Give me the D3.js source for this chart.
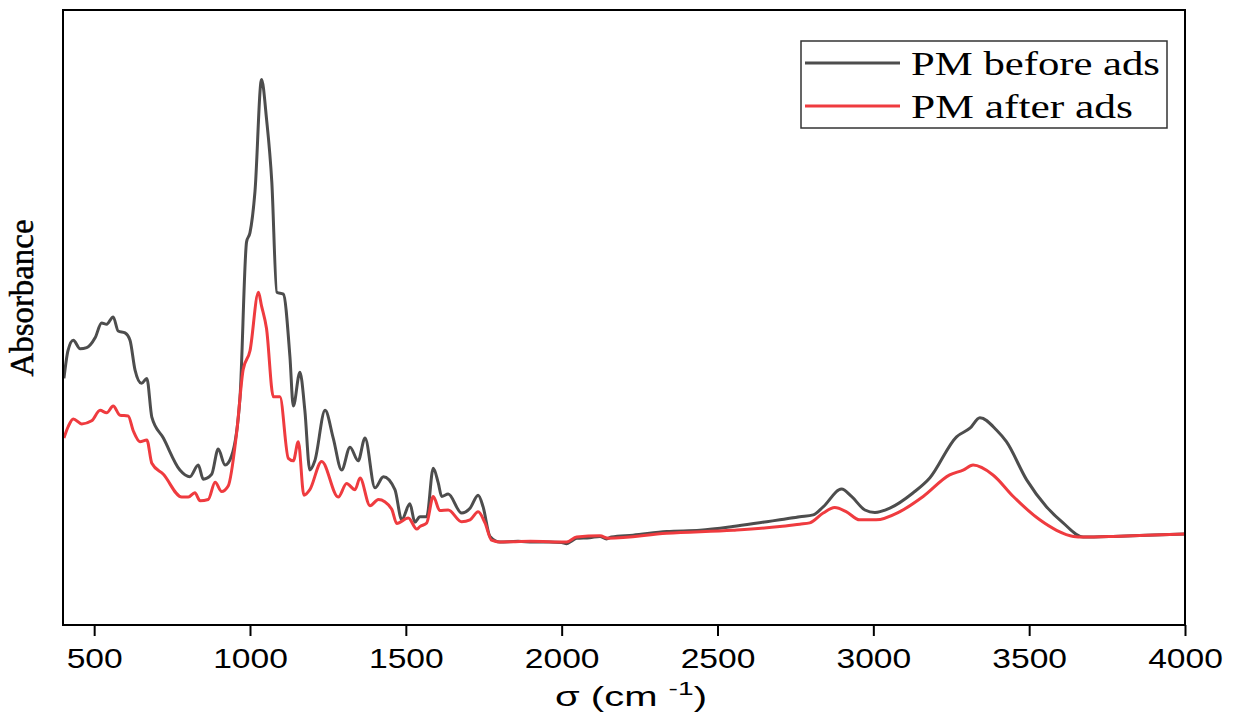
<!DOCTYPE html>
<html>
<head>
<meta charset="utf-8">
<style>
  body { margin: 0; background: #fff; }
  svg { display: block; }
  .tick text { font-family: "Liberation Sans", Arial, sans-serif; font-size: 28px; fill: #000; }
  .serif { font-family: "Liberation Serif", "Times New Roman", serif; fill: #000; }
</style>
</head>
<body>
<script src="https://d3js.org/d3.v7.min.js"></script>
<script>

// wavenumber (cm-1) and absorbance (a.u.)
var waveBefore = [403,416,433,455,476,503,524,540,561,577,599,615,631,652,669,685,722,775,807,834,850,877,898,920,941,968,989,1000,1016,1037,1053,1070,1086,1107,1128,1139,1160,1176,1192,1208,1241,1267,1294,1321,1347,1369,1401,1428,1465,1487,1513,1529,1545,1567,1588,1604,1615,1636,1679,1706,1732,1748,1770,1802,1860,1908,1960,2000,2016,2030,2048,2090,2123,2144,2160,2229,2337,2444,2549,2658,2700,2764,2807,2839,2898,2930,2973,3005,3053,3128,3181,3267,3310,3342,3395,3427,3492,3556,3609,3673,3769,3876,4000];
var absBefore  = [0.401,0.446,0.463,0.449,0.451,0.467,0.491,0.489,0.501,0.478,0.475,0.463,0.415,0.393,0.401,0.338,0.304,0.252,0.241,0.260,0.237,0.245,0.286,0.260,0.275,0.371,0.623,0.638,0.705,0.887,0.823,0.720,0.541,0.538,0.437,0.356,0.411,0.349,0.252,0.267,0.349,0.304,0.252,0.289,0.267,0.304,0.223,0.241,0.220,0.171,0.197,0.167,0.176,0.176,0.255,0.231,0.209,0.213,0.182,0.190,0.211,0.192,0.144,0.135,0.136,0.135,0.135,0.134,0.132,0.136,0.141,0.142,0.144,0.140,0.143,0.146,0.152,0.154,0.160,0.168,0.171,0.176,0.179,0.192,0.221,0.209,0.187,0.183,0.190,0.215,0.239,0.306,0.320,0.337,0.317,0.298,0.236,0.192,0.166,0.143,0.144,0.146,0.148];

var waveAfter = [403,417,433,460,492,519,540,561,583,609,626,647,669,685,722,781,802,823,840,866,888,909,930,957,978,1000,1027,1037,1053,1075,1096,1123,1139,1155,1173,1192,1230,1283,1310,1337,1353,1385,1412,1454,1471,1508,1535,1545,1567,1588,1609,1636,1679,1706,1732,1754,1775,1802,1900,2016,2048,2123,2150,2337,2550,2700,2764,2796,2839,2876,2914,2956,3009,3084,3160,3245,3288,3320,3384,3449,3534,3588,3642,3673,3769,3876,4000];
var absAfter  = [0.304,0.323,0.335,0.327,0.332,0.349,0.345,0.356,0.341,0.340,0.315,0.298,0.301,0.263,0.245,0.208,0.208,0.215,0.202,0.204,0.232,0.217,0.226,0.312,0.415,0.446,0.541,0.519,0.482,0.371,0.371,0.271,0.267,0.298,0.211,0.220,0.266,0.208,0.230,0.220,0.239,0.194,0.204,0.189,0.165,0.174,0.156,0.160,0.166,0.209,0.186,0.187,0.168,0.171,0.184,0.166,0.138,0.135,0.136,0.135,0.143,0.145,0.141,0.149,0.154,0.160,0.164,0.166,0.182,0.191,0.184,0.171,0.171,0.184,0.209,0.244,0.252,0.260,0.244,0.209,0.171,0.154,0.144,0.143,0.144,0.146,0.148];

var xTicks = [500, 1000, 1500, 2000, 2500, 3000, 3500, 4000];
var seriesNames = ["PM before ads", "PM after ads"];
var seriesColors = ["#4d4d4d", "#ef3b3f"];

var W = 1236, H = 715;
var plotLeft = 63, plotRight = 1185, plotTop = 10, plotBottom = 625;

var svg = d3.select("body").append("svg")
    .attr("width", W)
    .attr("height", H);

var x = d3.scaleLinear().domain([400, 4000]).range([plotLeft, plotRight]);
var y = d3.scaleLinear().domain([0, 1]).range([plotBottom, plotTop]);

// bottom axis
var xAxis = svg.append("g")
    .attr("transform", "translate(0," + plotBottom + ")")
    .call(d3.axisBottom(x).tickValues(xTicks).tickSize(11).tickFormat(d3.format("d")));
xAxis.select(".domain").remove();
xAxis.selectAll(".tick line").attr("stroke", "#000").attr("stroke-width", 2);
xAxis.selectAll(".tick text")
    .attr("y", 43).attr("dy", 0)
    .attr("transform", "scale(1.2,1)");

// spectra
var line = d3.line()
    .x(function(d) { return x(d[0]); })
    .y(function(d) { return y(d[1]); })
    .curve(d3.curveMonotoneX);

var before = d3.zip(waveBefore, absBefore);
var after = d3.zip(waveAfter, absAfter);

svg.append("path").datum(before)
    .attr("d", line).attr("fill", "none")
    .attr("stroke", seriesColors[0]).attr("stroke-width", 3)
    .attr("stroke-linejoin", "round");

svg.append("path").datum(after)
    .attr("d", line).attr("fill", "none")
    .attr("stroke", seriesColors[1]).attr("stroke-width", 3)
    .attr("stroke-linejoin", "round");

// frame
svg.append("rect")
    .attr("x", plotLeft).attr("y", plotTop)
    .attr("width", plotRight - plotLeft).attr("height", plotBottom - plotTop)
    .attr("fill", "none").attr("stroke", "#000").attr("stroke-width", 2);

// y label
svg.append("text")
    .attr("class", "serif")
    .attr("transform", "translate(33,298) rotate(-90)")
    .attr("text-anchor", "middle")
    .attr("textLength", 157)
    .attr("lengthAdjust", "spacingAndGlyphs")
    .style("font-size", "34px")
    .style("stroke", "#000").style("stroke-width", 0.5)
    .text("Absorbance");

// x label
var xt = svg.append("g").attr("transform", "translate(631,706)");
var xtext = xt.append("text")
    .attr("text-anchor", "middle")
    .style("font-family", "'Liberation Sans', Arial, sans-serif")
    .style("font-size", "27px");
xtext.append("tspan").text("\u03c3 (cm ");
xtext.append("tspan").attr("dy", -11).style("font-size", "19px").text("-1");
xtext.append("tspan").attr("dy", 11).text(")");
var bw = xtext.node().getBBox().width;
xt.attr("transform", "translate(631,706) scale(" + (152 / bw) + ",1)");

// legend
var legend = svg.append("g");
legend.append("rect")
    .attr("x", 801).attr("y", 41)
    .attr("width", 366).attr("height", 87)
    .attr("fill", "#fff").attr("stroke", "#333").attr("stroke-width", 1.5);

var legendWidths = [249, 222];
seriesNames.forEach(function(name, i) {
  var ly = 63 + i * 43;
  legend.append("line")
      .attr("x1", 805).attr("x2", 900)
      .attr("y1", ly).attr("y2", ly)
      .attr("stroke", seriesColors[i]).attr("stroke-width", 3);
  legend.append("text")
      .attr("class", "serif")
      .attr("x", 911).attr("y", ly + 12)
      .attr("textLength", legendWidths[i])
      .attr("lengthAdjust", "spacingAndGlyphs")
      .style("font-size", "33px")
      .text(name);
});

</script>
</body>
</html>
